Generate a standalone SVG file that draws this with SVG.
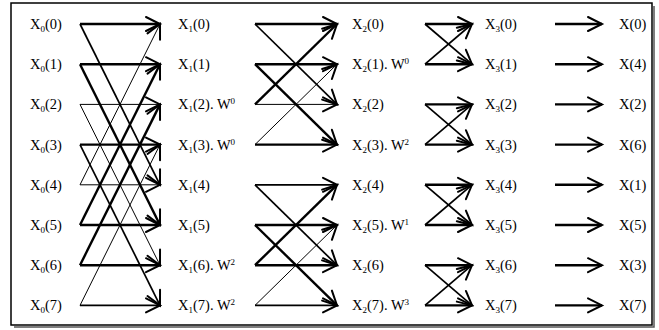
<svg xmlns="http://www.w3.org/2000/svg" width="659" height="330" viewBox="0 0 659 330">
<style>
text{font-family:"Liberation Serif","Times New Roman",serif;font-size:14.5px;fill:#000}
.sub{font-size:9px}
.sup{font-size:9px}
.c line{stroke:#000;fill:none;marker-end:url(#ah)}
.t{stroke-width:1}
.m{stroke-width:1.7}
.k{stroke-width:2.4}
</style>
<defs>
<marker id="ah" viewBox="-16 -9 18 18" refX="0" refY="0" markerWidth="18" markerHeight="18" markerUnits="userSpaceOnUse" orient="auto" overflow="visible">
<path d="M-14,-7 L0,0 L-14,7" fill="none" stroke="#000" stroke-width="2" stroke-linecap="round" stroke-linejoin="miter"/>
</marker>
</defs>
<rect x="0" y="0" width="659" height="330" fill="#fff"/>
<g id="frame">
<rect x="11" y="3" width="641" height="322" fill="none" stroke="#000" stroke-width="1.5"/>
<polyline points="654,6 654,327 14,327" fill="none" stroke="#555" stroke-width="1.5"/>
</g>
<g id="connectors" class="c">
<!-- stage 1 -->
<line class="k" x1="80" y1="24" x2="160" y2="24"/>
<line class="k" x1="80" y1="64.2" x2="160" y2="64.2"/>
<line class="t" x1="80" y1="104.4" x2="160" y2="104.4"/>
<line class="k" x1="80" y1="144.6" x2="160" y2="144.6"/>
<line class="t" x1="80" y1="184.8" x2="160" y2="184.8"/>
<line class="k" x1="80" y1="225" x2="160" y2="225"/>
<line class="k" x1="80" y1="265.2" x2="160" y2="265.2"/>
<line class="m" x1="80" y1="305.4" x2="160" y2="305.4"/>
<line class="m" x1="80" y1="24" x2="160" y2="184.8"/>
<line class="k" x1="80" y1="64.2" x2="160" y2="225"/>
<line class="t" x1="80" y1="104.4" x2="160" y2="265.2"/>
<line class="m" x1="80" y1="144.6" x2="160" y2="305.4"/>
<line class="t" x1="80" y1="184.8" x2="160" y2="24"/>
<line class="k" x1="80" y1="225" x2="160" y2="64.2"/>
<line class="k" x1="80" y1="265.2" x2="160" y2="104.4"/>
<line class="t" x1="80" y1="305.4" x2="160" y2="144.6"/>
<!-- stage 2 -->
<line class="k" x1="255" y1="24" x2="337" y2="24"/>
<line class="k" x1="255" y1="64.2" x2="337" y2="64.2"/>
<line class="t" x1="255" y1="104.4" x2="337" y2="104.4"/>
<line class="k" x1="255" y1="144.6" x2="337" y2="144.6"/>
<line class="m" x1="255" y1="24" x2="337" y2="104.4"/>
<line class="k" x1="255" y1="64.2" x2="337" y2="144.6"/>
<line class="k" x1="255" y1="104.4" x2="337" y2="24"/>
<line class="t" x1="255" y1="144.6" x2="337" y2="64.2"/>
<line class="m" x1="255" y1="184.8" x2="337" y2="184.8"/>
<line class="k" x1="255" y1="225" x2="337" y2="225"/>
<line class="k" x1="255" y1="265.2" x2="337" y2="265.2"/>
<line class="m" x1="255" y1="305.4" x2="337" y2="305.4"/>
<line class="m" x1="255" y1="184.8" x2="337" y2="265.2"/>
<line class="k" x1="255" y1="225" x2="337" y2="305.4"/>
<line class="k" x1="255" y1="265.2" x2="337" y2="184.8"/>
<line class="t" x1="255" y1="305.4" x2="337" y2="225"/>
<!-- stage 3 -->
<line class="k" x1="425" y1="24" x2="472" y2="24"/>
<line class="k" x1="425" y1="64.2" x2="472" y2="64.2"/>
<line class="m" x1="425" y1="24" x2="472" y2="64.2"/>
<line class="m" x1="425" y1="64.2" x2="472" y2="24"/>
<line class="k" x1="425" y1="104.4" x2="472" y2="104.4"/>
<line class="k" x1="425" y1="144.6" x2="472" y2="144.6"/>
<line class="m" x1="425" y1="104.4" x2="472" y2="144.6"/>
<line class="m" x1="425" y1="144.6" x2="472" y2="104.4"/>
<line class="k" x1="425" y1="184.8" x2="472" y2="184.8"/>
<line class="k" x1="425" y1="225" x2="472" y2="225"/>
<line class="m" x1="425" y1="184.8" x2="472" y2="225"/>
<line class="m" x1="425" y1="225" x2="472" y2="184.8"/>
<line class="k" x1="425" y1="265.2" x2="472" y2="265.2"/>
<line class="k" x1="425" y1="305.4" x2="472" y2="305.4"/>
<line class="m" x1="425" y1="265.2" x2="472" y2="305.4"/>
<line class="m" x1="425" y1="305.4" x2="472" y2="265.2"/>
<!-- stage 4 -->
<line class="k" x1="555" y1="24" x2="602" y2="24"/>
<line class="k" x1="555" y1="64.2" x2="602" y2="64.2"/>
<line class="k" x1="555" y1="104.4" x2="602" y2="104.4"/>
<line class="k" x1="555" y1="144.6" x2="602" y2="144.6"/>
<line class="k" x1="555" y1="184.8" x2="602" y2="184.8"/>
<line class="k" x1="555" y1="225" x2="602" y2="225"/>
<line class="k" x1="555" y1="265.2" x2="602" y2="265.2"/>
<line class="k" x1="555" y1="305.4" x2="602" y2="305.4"/>
</g>
<!-- column 0 -->
<g id="x0_0"><text x="30" y="29">X<tspan class="sub" dy="3">0</tspan><tspan dy="-3">(0)</tspan></text></g>
<g id="x0_1"><text x="30" y="69.2">X<tspan class="sub" dy="3">0</tspan><tspan dy="-3">(1)</tspan></text></g>
<g id="x0_2"><text x="30" y="109.4">X<tspan class="sub" dy="3">0</tspan><tspan dy="-3">(2)</tspan></text></g>
<g id="x0_3"><text x="30" y="149.6">X<tspan class="sub" dy="3">0</tspan><tspan dy="-3">(3)</tspan></text></g>
<g id="x0_4"><text x="30" y="189.8">X<tspan class="sub" dy="3">0</tspan><tspan dy="-3">(4)</tspan></text></g>
<g id="x0_5"><text x="30" y="230">X<tspan class="sub" dy="3">0</tspan><tspan dy="-3">(5)</tspan></text></g>
<g id="x0_6"><text x="30" y="270.2">X<tspan class="sub" dy="3">0</tspan><tspan dy="-3">(6)</tspan></text></g>
<g id="x0_7"><text x="30" y="310.4">X<tspan class="sub" dy="3">0</tspan><tspan dy="-3">(7)</tspan></text></g>
<!-- column 1 -->
<g id="x1_0"><text x="178" y="29">X<tspan class="sub" dy="3">1</tspan><tspan dy="-3">(0)</tspan></text></g>
<g id="x1_1"><text x="178" y="69.2">X<tspan class="sub" dy="3">1</tspan><tspan dy="-3">(1)</tspan></text></g>
<g id="x1_2"><text x="178" y="109.4">X<tspan class="sub" dy="3">1</tspan><tspan dy="-3">(2). W</tspan><tspan class="sup" dy="-5">0</tspan></text></g>
<g id="x1_3"><text x="178" y="149.6">X<tspan class="sub" dy="3">1</tspan><tspan dy="-3">(3). W</tspan><tspan class="sup" dy="-5">0</tspan></text></g>
<g id="x1_4"><text x="178" y="189.8">X<tspan class="sub" dy="3">1</tspan><tspan dy="-3">(4)</tspan></text></g>
<g id="x1_5"><text x="178" y="230">X<tspan class="sub" dy="3">1</tspan><tspan dy="-3">(5)</tspan></text></g>
<g id="x1_6"><text x="178" y="270.2">X<tspan class="sub" dy="3">1</tspan><tspan dy="-3">(6). W</tspan><tspan class="sup" dy="-5">2</tspan></text></g>
<g id="x1_7"><text x="178" y="310.4">X<tspan class="sub" dy="3">1</tspan><tspan dy="-3">(7). W</tspan><tspan class="sup" dy="-5">2</tspan></text></g>
<!-- column 2 -->
<g id="x2_0"><text x="352" y="29">X<tspan class="sub" dy="3">2</tspan><tspan dy="-3">(0)</tspan></text></g>
<g id="x2_1"><text x="352" y="69.2">X<tspan class="sub" dy="3">2</tspan><tspan dy="-3">(1). W</tspan><tspan class="sup" dy="-5">0</tspan></text></g>
<g id="x2_2"><text x="352" y="109.4">X<tspan class="sub" dy="3">2</tspan><tspan dy="-3">(2)</tspan></text></g>
<g id="x2_3"><text x="352" y="149.6">X<tspan class="sub" dy="3">2</tspan><tspan dy="-3">(3). W</tspan><tspan class="sup" dy="-5">2</tspan></text></g>
<g id="x2_4"><text x="352" y="189.8">X<tspan class="sub" dy="3">2</tspan><tspan dy="-3">(4)</tspan></text></g>
<g id="x2_5"><text x="352" y="230">X<tspan class="sub" dy="3">2</tspan><tspan dy="-3">(5). W</tspan><tspan class="sup" dy="-5">1</tspan></text></g>
<g id="x2_6"><text x="352" y="270.2">X<tspan class="sub" dy="3">2</tspan><tspan dy="-3">(6)</tspan></text></g>
<g id="x2_7"><text x="352" y="310.4">X<tspan class="sub" dy="3">2</tspan><tspan dy="-3">(7). W</tspan><tspan class="sup" dy="-5">3</tspan></text></g>
<!-- column 3 -->
<g id="x3_0"><text x="485" y="29">X<tspan class="sub" dy="3">3</tspan><tspan dy="-3">(0)</tspan></text></g>
<g id="x3_1"><text x="485" y="69.2">X<tspan class="sub" dy="3">3</tspan><tspan dy="-3">(1)</tspan></text></g>
<g id="x3_2"><text x="485" y="109.4">X<tspan class="sub" dy="3">3</tspan><tspan dy="-3">(2)</tspan></text></g>
<g id="x3_3"><text x="485" y="149.6">X<tspan class="sub" dy="3">3</tspan><tspan dy="-3">(3)</tspan></text></g>
<g id="x3_4"><text x="485" y="189.8">X<tspan class="sub" dy="3">3</tspan><tspan dy="-3">(4)</tspan></text></g>
<g id="x3_5"><text x="485" y="230">X<tspan class="sub" dy="3">3</tspan><tspan dy="-3">(5)</tspan></text></g>
<g id="x3_6"><text x="485" y="270.2">X<tspan class="sub" dy="3">3</tspan><tspan dy="-3">(6)</tspan></text></g>
<g id="x3_7"><text x="485" y="310.4">X<tspan class="sub" dy="3">3</tspan><tspan dy="-3">(7)</tspan></text></g>
<!-- output -->
<g id="out_0"><text x="619" y="29">X(0)</text></g>
<g id="out_1"><text x="619" y="69.2">X(4)</text></g>
<g id="out_2"><text x="619" y="109.4">X(2)</text></g>
<g id="out_3"><text x="619" y="149.6">X(6)</text></g>
<g id="out_4"><text x="619" y="189.8">X(1)</text></g>
<g id="out_5"><text x="619" y="230">X(5)</text></g>
<g id="out_6"><text x="619" y="270.2">X(3)</text></g>
<g id="out_7"><text x="619" y="310.4">X(7)</text></g>
</svg>
